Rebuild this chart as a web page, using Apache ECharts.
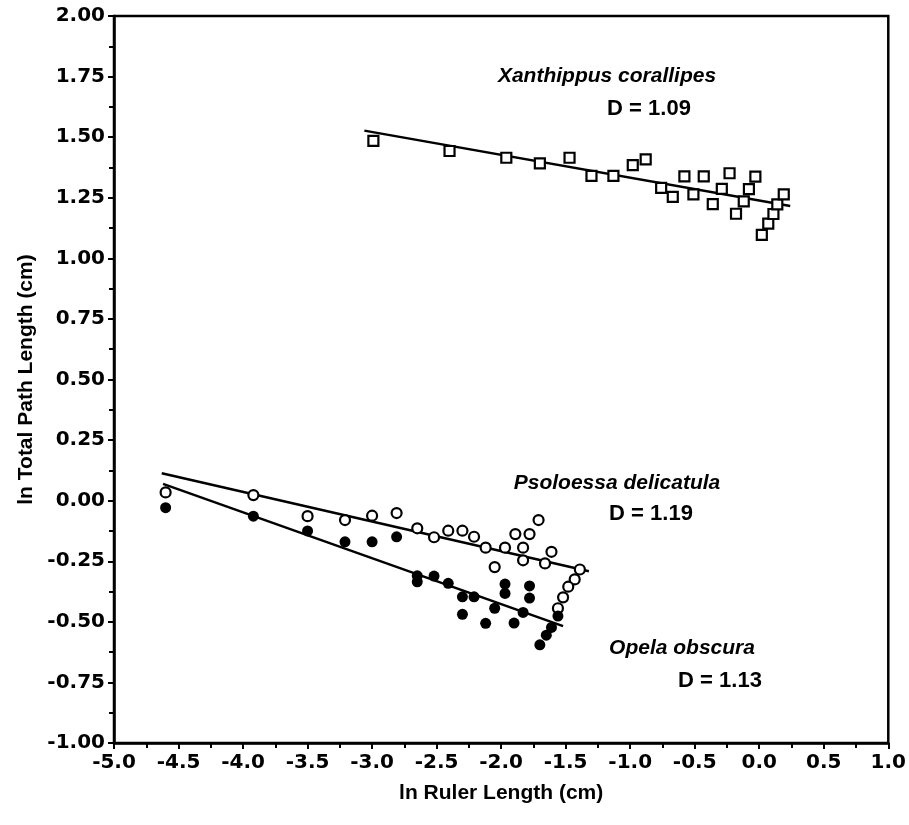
<!DOCTYPE html>
<html>
<head>
<meta charset="utf-8">
<script src="https://cdn.jsdelivr.net/npm/echarts@6/dist/echarts.min.js"></script>
<style>html,body{margin:0;padding:0;background:#fff}#c{width:909px;height:825px}</style>
</head>
<body>
<div id="c"></div>
<script>
// Xanthippus corallipes (open squares)
var xanthX = [-2.99, -2.40, -1.96, -1.70, -1.47, -1.30, -1.13, -0.98, -0.88, -0.76, -0.67, -0.58, -0.51, -0.43, -0.36, -0.29, -0.23, -0.18, -0.12, -0.08, -0.03, 0.02, 0.07, 0.11, 0.14, 0.19];
var xanthY = [1.485, 1.443, 1.415, 1.392, 1.415, 1.34, 1.34, 1.385, 1.408, 1.291, 1.254, 1.338, 1.264, 1.338, 1.224, 1.287, 1.351, 1.184, 1.235, 1.286, 1.337, 1.097, 1.143, 1.183, 1.223, 1.264];
// Psoloessa delicatula (open circles)
var psoX = [-4.60, -3.92, -3.50, -3.21, -3.00, -2.81, -2.65, -2.52, -2.41, -2.30, -2.21, -2.12, -2.05, -1.97, -1.89, -1.83, -1.83, -1.78, -1.71, -1.66, -1.61, -1.39, -1.43, -1.48, -1.52, -1.56];
var psoY = [0.034, 0.023, -0.064, -0.08, -0.062, -0.051, -0.114, -0.151, -0.124, -0.124, -0.149, -0.194, -0.274, -0.194, -0.138, -0.194, -0.246, -0.138, -0.08, -0.259, -0.211, -0.284, -0.325, -0.355, -0.399, -0.444];
// Opela obscura (filled circles)
var opeX = [-4.60, -3.92, -3.50, -3.21, -3.00, -2.81, -2.65, -2.65, -2.52, -2.41, -2.30, -2.30, -2.21, -2.12, -2.05, -1.97, -1.97, -1.90, -1.83, -1.78, -1.78, -1.56, -1.61, -1.65, -1.70];
var opeY = [-0.029, -0.064, -0.125, -0.17, -0.17, -0.149, -0.31, -0.335, -0.311, -0.341, -0.397, -0.469, -0.397, -0.506, -0.444, -0.344, -0.383, -0.505, -0.461, -0.352, -0.402, -0.476, -0.523, -0.555, -0.595];
// fitted lines (endpoints)
var xanthFitX = [-3.06, 0.24], xanthFitY = [1.527, 1.216];
var psoFitX = [-4.63, -1.32], psoFitY = [0.113, -0.291];
var opeFitX = [-4.62, -1.52], opeFitY = [0.069, -0.518];

var xTicks = { min: -5.0, max: 1.0, interval: 0.5 };
var yTicks = { min: -1.0, max: 2.0, interval: 0.25 };

function zip(a, b) { return a.map(function (v, i) { return [v, b[i]]; }); }

var FONT = 'Liberation Sans';
var TICKFONT = 'DejaVu Sans';
var chart = echarts.init(document.getElementById('c'));
var lineStyle = { color: '#000', width: 2.5 };
function lbl(x, y, text, italic, size) {
  return { type: 'text', x: x, y: y, style: { text: text, font: (italic ? 'italic ' : '') + 'bold ' + size + 'px ' + FONT, fill: '#000', textAlign: 'center', textVerticalAlign: 'middle' } };
}
chart.setOption({
  animation: false,
  backgroundColor: '#fff',
  grid: { left: 114, right: 20, top: 16, bottom: 82, show: true, borderColor: '#000', borderWidth: 2.5, backgroundColor: 'transparent' },
  xAxis: {
    type: 'value', min: xTicks.min, max: xTicks.max, interval: xTicks.interval,
    name: 'ln Ruler Length (cm)', nameLocation: 'middle', nameGap: 40,
    nameTextStyle: { fontFamily: FONT, fontWeight: 'bold', fontSize: 21, color: '#000' },
    axisLine: { onZero: false, lineStyle: { color: '#000', width: 2.5 } },
    axisTick: { show: true, inside: false, length: 6, lineStyle: { color: '#000', width: 2 } },
    minorTick: { show: true, splitNumber: 2, length: 5, lineStyle: { color: '#000', width: 2 } },
    splitLine: { show: false },
    axisLabel: { margin: 10, fontFamily: TICKFONT, fontWeight: 'bold', fontSize: 20, color: '#000', formatter: function (v) { return v.toFixed(1); } }
  },
  yAxis: {
    type: 'value', min: yTicks.min, max: yTicks.max, interval: yTicks.interval,
    name: 'ln Total Path Length (cm)', nameLocation: 'middle', nameGap: 76,
    nameTextStyle: { fontFamily: FONT, fontWeight: 'bold', fontSize: 21, color: '#000' },
    axisLine: { onZero: false, lineStyle: { color: '#000', width: 2.5 } },
    axisTick: { show: true, inside: false, length: 6, lineStyle: { color: '#000', width: 2 } },
    minorTick: { show: true, splitNumber: 2, length: 5, lineStyle: { color: '#000', width: 2 } },
    splitLine: { show: false },
    axisLabel: { margin: 9, fontFamily: TICKFONT, fontWeight: 'bold', fontSize: 20, color: '#000', formatter: function (v) { return v.toFixed(2); } }
  },
  series: [
    { type: 'line', data: zip(xanthFitX, xanthFitY), symbol: 'none', lineStyle: lineStyle, z: 2 },
    { type: 'line', data: zip(psoFitX, psoFitY), symbol: 'none', lineStyle: lineStyle, z: 2 },
    { type: 'line', data: zip(opeFitX, opeFitY), symbol: 'none', lineStyle: lineStyle, z: 2 },
    { type: 'scatter', data: zip(xanthX, xanthY), symbol: 'rect', symbolSize: 10, itemStyle: { color: '#fff', borderColor: '#000', borderWidth: 2.2, opacity: 1 }, z: 3 },
    { type: 'scatter', data: zip(psoX, psoY), symbol: 'circle', symbolSize: 10, itemStyle: { color: '#fff', borderColor: '#000', borderWidth: 2.2, opacity: 1 }, z: 3 },
    { type: 'scatter', data: zip(opeX, opeY), symbol: 'circle', symbolSize: 11, itemStyle: { color: '#000', borderColor: '#000', borderWidth: 0, opacity: 1 }, z: 4 }
  ],
  graphic: [
    lbl(607, 76, 'Xanthippus corallipes', true, 21),
    lbl(649, 109, 'D = 1.09', false, 22),
    lbl(617, 483, 'Psoloessa delicatula', true, 21),
    lbl(651, 514, 'D = 1.19', false, 22),
    lbl(682, 648, 'Opela obscura', true, 21),
    lbl(720, 681, 'D = 1.13', false, 22)
  ]
});
</script>
</body>
</html>
